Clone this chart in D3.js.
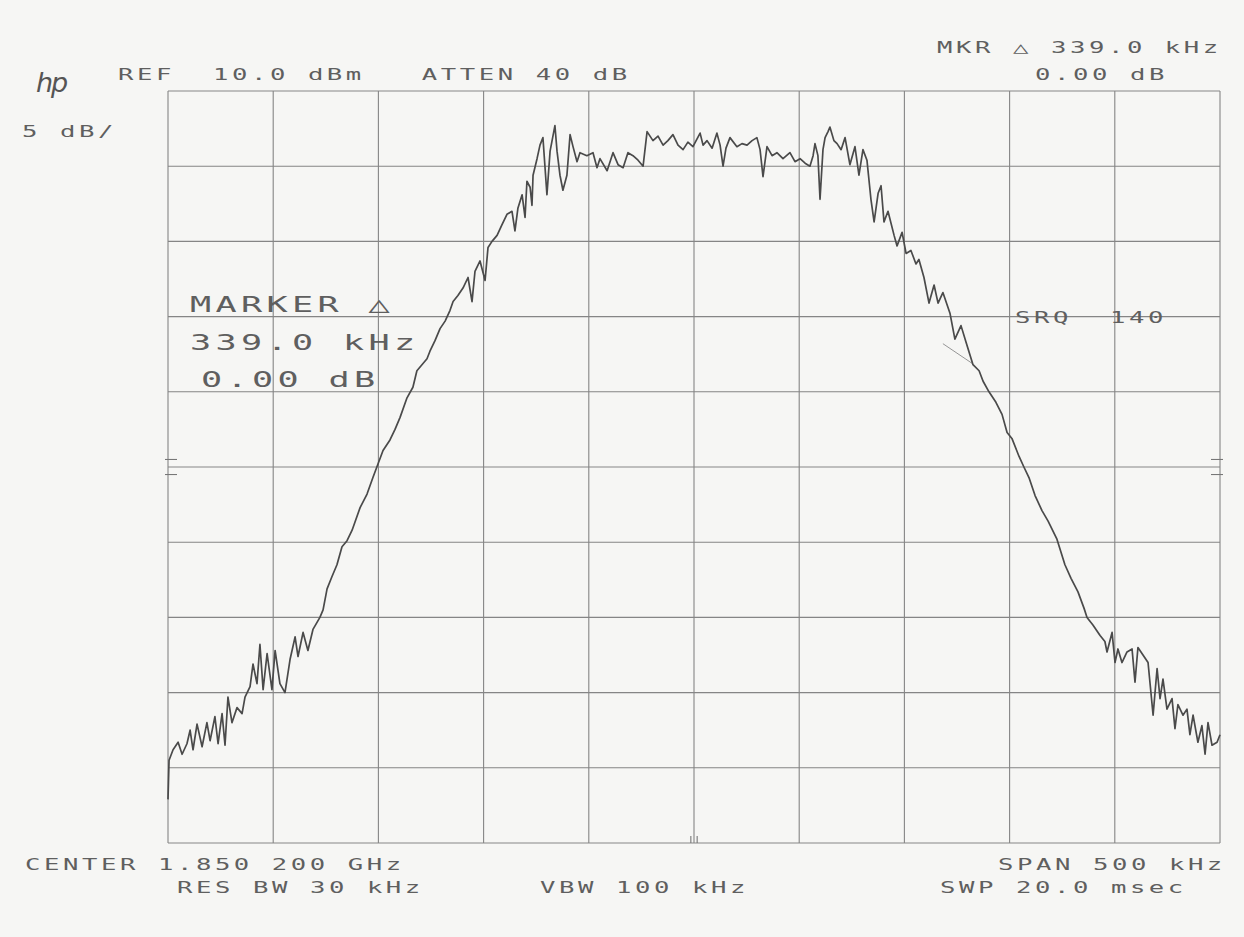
<!DOCTYPE html>
<html lang="en">
<head>
<meta charset="utf-8">
<style>
  body { margin: 0; background: #f6f6f4; }
  svg { display: block; }
  .lbl { font-family: "DejaVu Sans Mono", monospace; fill: #5f5f5f; }
  .grid line { stroke: #858585; stroke-width: 1.1; }
</style>
<script src="https://d3js.org/d3.v7.min.js"></script>
</head>
<body>
<svg width="1244" height="937"></svg>
<script>
// offset from center frequency (kHz)
var freqKHz = [
  -250.0, -249.5, -247.6, -245.2, -243.3, -241.0, -239.5, -238.1, -236.2, -233.8,
  -231.5, -230.0, -227.7, -226.2, -224.3, -222.9, -221.5, -219.6, -217.2, -214.8,
  -213.4, -211.0, -209.6, -207.7, -206.3, -204.8, -202.9, -200.6, -199.1, -196.8,
  -194.4, -192.0, -189.6, -188.2, -185.8, -183.5, -181.1, -177.8, -176.3, -174.4,
  -172.1, -169.7, -167.3, -164.9, -162.5, -158.7, -155.4, -152.6, -150.2, -147.8,
  -144.5, -142.1, -139.7, -136.4, -133.6, -131.7, -129.3, -126.9, -125.5, -123.1,
  -120.7, -118.3, -116.0, -114.5, -112.2, -109.8, -107.4, -105.5, -104.1, -101.7,
  -99.3, -97.9, -96.0, -93.6, -91.3, -88.9, -86.5, -85.1, -83.7, -81.7,
  -80.3, -79.4, -77.9, -77.0, -76.5, -74.6, -73.2, -71.8, -69.9, -68.4,
  -66.1, -65.1, -63.7, -62.3, -60.4, -58.9, -57.5, -55.6, -54.2, -50.9,
  -48.0, -46.1, -44.7, -41.3, -38.5, -36.1, -33.7, -31.4, -29.0, -26.6,
  -24.2, -22.3, -19.5, -17.1, -14.7, -12.4, -10.0, -7.6, -5.2, -2.9,
  -0.5, 2.9, 4.3, 6.2, 8.6, 10.9, 12.4, 13.8, 15.2, 17.1,
  20.4, 22.8, 25.2, 27.6, 29.9, 31.4, 32.8, 34.7, 37.1, 39.4,
  42.3, 45.6, 48.0, 50.4, 52.8, 55.1, 56.6, 57.5, 58.9, 59.9,
  61.3, 62.3, 63.7, 64.6, 66.5, 68.0, 69.9, 71.8, 74.1, 76.5,
  78.4, 80.3, 82.2, 84.1, 85.6, 87.5, 88.9, 90.3, 92.2, 95.1,
  96.5, 98.9, 100.8, 103.1, 105.5, 106.9, 109.3, 111.7, 114.1, 116.0,
  118.3, 121.7, 124.0, 126.9, 129.3, 132.6, 135.5, 137.4, 140.2, 143.5,
  146.4, 148.8, 151.1, 154.5, 156.8, 159.2, 162.1, 165.4, 168.3, 172.5,
  176.3, 179.2, 182.5, 185.4, 186.8, 189.6, 193.0, 195.3, 196.3, 198.7,
  200.1, 201.5, 203.4, 205.8, 208.2, 209.6, 211.0, 213.4, 215.8, 218.2,
  220.1, 221.5, 222.9, 224.8, 227.2, 228.6, 230.0, 232.4, 234.3, 235.7,
  237.2, 239.5, 241.4, 242.9, 244.3, 246.2, 248.6, 250.0
];

// trace level (dBm)
var levelDbm = [
  -37.1, -34.5, -33.8, -33.3, -34.1, -33.4, -32.5, -33.8, -32.1, -33.6,
  -32.0, -33.2, -31.6, -33.4, -31.4, -33.5, -30.3, -32.0, -31.0, -31.4,
  -30.3, -29.6, -28.1, -29.4, -26.8, -29.8, -27.4, -29.8, -27.2, -29.4,
  -30.0, -27.8, -26.3, -27.6, -26.0, -27.2, -25.8, -25.0, -24.5, -23.1,
  -22.3, -21.5, -20.3, -19.9, -19.2, -17.7, -16.8, -15.7, -14.8, -13.9,
  -13.2, -12.5, -11.7, -10.4, -9.7, -8.6, -8.2, -7.8, -7.3, -6.6,
  -5.8, -5.3, -4.6, -4.0, -3.6, -3.1, -2.4, -4.0, -2.0, -1.3,
  -2.6, -0.4, 0.0, 0.4, 1.1, 1.8, 2.0, 0.7, 2.2, 3.1,
  1.6, 4.0, 3.6, 2.4, 4.4, 5.5, 6.4, 6.9, 3.1, 6.0,
  7.7, 6.0, 4.4, 3.4, 4.4, 7.1, 6.3, 5.3, 5.9, 5.7,
  5.9, 4.9, 5.5, 4.7, 5.9, 5.1, 4.9, 5.9, 5.7, 5.4,
  5.0, 7.3, 6.7, 7.0, 6.4, 6.7, 7.1, 6.4, 6.1, 6.6,
  6.3, 7.2, 6.4, 6.7, 6.2, 7.2, 6.4, 5.0, 6.2, 6.9,
  6.3, 6.5, 6.4, 6.7, 6.9, 6.1, 4.3, 6.3, 5.7, 5.9,
  5.5, 5.9, 5.3, 5.5, 5.2, 5.0, 5.7, 6.5, 5.7, 2.8,
  6.1, 6.9, 7.3, 7.6, 6.7, 6.5, 6.1, 6.9, 5.1, 6.3,
  4.4, 6.1, 5.4, 2.8, 1.3, 3.2, 3.7, 1.3, 2.0, 0.4,
  -0.3, 0.6, -0.8, -0.6, -1.5, -1.2, -2.4, -4.1, -2.9, -4.1,
  -3.4, -4.8, -6.5, -5.6, -6.7, -8.2, -8.6, -9.3, -10.0, -10.7,
  -11.5, -12.7, -13.1, -14.3, -15.0, -15.7, -16.9, -17.9, -18.6, -19.8,
  -21.5, -22.4, -23.3, -24.4, -25.0, -25.5, -26.2, -26.6, -27.3, -26.0,
  -28.0, -27.1, -28.0, -27.3, -27.1, -29.3, -27.0, -27.5, -28.0, -31.5,
  -28.4, -30.4, -29.1, -31.1, -30.4, -32.4, -30.8, -31.5, -31.1, -32.8,
  -31.5, -33.3, -32.2, -34.1, -32.0, -33.5, -33.3, -32.8
];

var xTicks = [-250, -200, -150, -100, -50, 0, 50, 100, 150, 200, 250];
var yTicks = [10, 5, 0, -5, -10, -15, -20, -25, -30, -35, -40];

// marker leader segment drawn by the analyzer (kHz, dBm)
var leaderKHz = [118.3, 132.1];
var leaderDbm = [-6.8, -8.1];

var svg = d3.select("svg"),
    plotLeft = 168, plotRight = 1220, plotTop = 91, plotBottom = 843;

var x = d3.scaleLinear().domain([-250, 250]).range([plotLeft, plotRight]);
var y = d3.scaleLinear().domain([-40, 10]).range([plotBottom, plotTop]);

// grid
var grid = svg.append("g").attr("class", "grid");
grid.selectAll(".v").data(xTicks).enter().append("line")
    .attr("x1", function(d) { return x(d); }).attr("x2", function(d) { return x(d); })
    .attr("y1", plotTop).attr("y2", plotBottom);
grid.selectAll(".h").data(yTicks).enter().append("line")
    .attr("y1", function(d) { return y(d); }).attr("y2", function(d) { return y(d); })
    .attr("x1", plotLeft).attr("x2", plotRight);

// little reference marks at the edges and at center
var marks = svg.append("g").attr("stroke", "#777").attr("stroke-width", 1.1);
[-14.5, -15.5].forEach(function(v) {
    marks.append("line").attr("x1", plotLeft - 3).attr("x2", plotLeft + 9)
        .attr("y1", y(v)).attr("y2", y(v));
    marks.append("line").attr("x1", plotRight - 9).attr("x2", plotRight + 3)
        .attr("y1", y(v)).attr("y2", y(v));
});
[-1.5, 1.5].forEach(function(v) {
    marks.append("line").attr("x1", x(v)).attr("x2", x(v))
        .attr("y1", plotBottom - 7).attr("y2", plotBottom);
});

// leader line
svg.append("line")
    .attr("x1", x(leaderKHz[0])).attr("y1", y(leaderDbm[0]))
    .attr("x2", x(leaderKHz[1])).attr("y2", y(leaderDbm[1]))
    .attr("stroke", "#8a8a8a").attr("stroke-width", 0.9);

// trace
var pts = freqKHz.map(function(f, i) { return [f, levelDbm[i]]; });
svg.append("path")
    .datum(pts)
    .attr("fill", "none")
    .attr("stroke", "#4a4a4a")
    .attr("stroke-width", 1.7)
    .attr("stroke-linejoin", "round")
    .attr("d", d3.line()
        .x(function(d) { return x(d[0]); })
        .y(function(d) { return y(d[1]); }));

// plotter style text
function label(str, px, py, size, pitch) {
    var sx = 1.6;
    var adv = size * 0.602;
    svg.append("text")
        .attr("class", "lbl")
        .attr("transform", "translate(" + px + "," + py + ") scale(" + sx + ",1)")
        .attr("font-size", size)
        .attr("letter-spacing", pitch / sx - adv)
        .attr("xml:space", "preserve")
        .style("white-space", "pre")
        .text(str);
}

label("REF  10.0 dBm   ATTEN 40 dB", 118, 80, 16, 19);
label("5 dB/", 22, 137, 16, 19);
label("MKR \u25B3 339.0 kHz", 937, 53, 16, 19);
label("0.00 dB", 1035, 80, 16, 19);
label("SRQ  140", 1015, 323, 16, 19);
label("CENTER 1.850 200 GHz", 25, 870, 16, 19);
label("RES BW 30 kHz", 177, 893, 16, 19);
label("VBW 100 kHz", 540, 893, 16, 19);
label("SPAN 500 kHz", 998, 870, 16, 19);
label("SWP 20.0 msec", 940, 893, 16, 19);

label("MARKER \u25B3", 190, 312, 22, 25.5);
label("339.0 kHz", 190, 350, 22, 25.5);
label("0.00 dB", 201, 387, 22, 25.5);

svg.append("text")
    .attr("x", 36).attr("y", 92)
    .attr("font-family", "DejaVu Sans")
    .attr("font-style", "italic")
    .attr("font-size", 27)
    .attr("letter-spacing", -2)
    .attr("fill", "#555")
    .text("hp");
</script>
</body>
</html>
